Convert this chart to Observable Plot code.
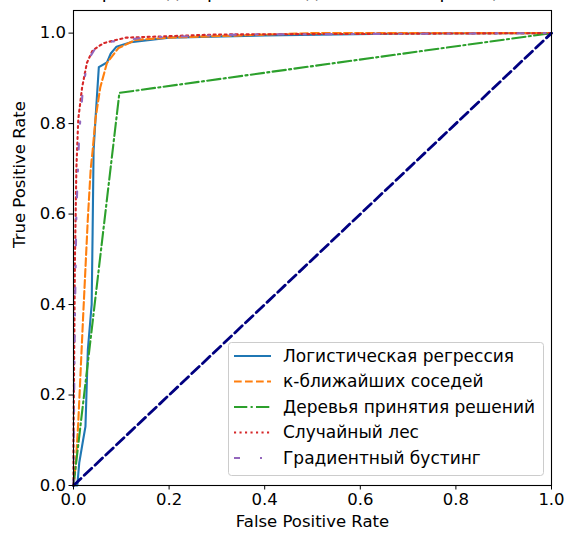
<!DOCTYPE html>
<html>
<head>
<meta charset="utf-8">
<script src="https://cdn.jsdelivr.net/npm/d3@7"></script>
<script src="https://cdn.jsdelivr.net/npm/@observablehq/plot@0.6"></script>
<style>
  html, body { margin: 0; padding: 0; background: #fff; }
  #chart svg { display: block; }
</style>
</head>
<body>
<div id="chart"></div>
<script>
// ---- Data ----
const titleText = "ROC-кривые для разных моделей классификации";
const xLabel = "False Positive Rate";
const yLabel = "True Positive Rate";
const tickValues = [0, 0.2, 0.4, 0.6, 0.8, 1.0];

const seriesNames = [
  "Логистическая регрессия",
  "к-ближайших соседей",
  "Деревья принятия решений",
  "Случайный лес",
  "Градиентный бустинг"
];

const fprLR = [0, 0.008, 0.012, 0.02, 0.025, 0.03, 0.038, 0.040, 0.042, 0.046, 0.053, 0.070, 0.078, 0.090, 0.120, 0.200, 0.400, 0.700, 1.0];
const tprLR = [0, 0.000, 0.050, 0.10, 0.130, 0.30, 0.400, 0.560, 0.740, 0.810, 0.925, 0.935, 0.955, 0.970, 0.980, 0.990, 0.995, 0.999, 1.0];

const fprKNN = [0, 0.005, 0.010, 0.020, 0.030, 0.036, 0.040, 0.046, 0.056, 0.070, 0.094, 0.130, 0.200, 0.500, 1.0];
const tprKNN = [0, 0.050, 0.140, 0.370, 0.590, 0.700, 0.740, 0.810, 0.880, 0.934, 0.967, 0.985, 0.990, 1.000, 1.0];

const fprDT = [0, 0.096, 1.0];
const tprDT = [0, 0.868, 1.0];

const fprRF = [0, 0.000, 0.003, 0.006, 0.010, 0.018, 0.028, 0.040, 0.063, 0.110, 0.300, 1.0];
const tprRF = [0, 0.100, 0.500, 0.700, 0.810, 0.880, 0.934, 0.962, 0.978, 0.990, 0.997, 1.0];

const fprGB = [0, 0.002, 0.006, 0.012, 0.020, 0.030, 0.045, 0.070, 0.150, 0.350, 1.0];
const tprGB = [0, 0.300, 0.600, 0.780, 0.880, 0.940, 0.965, 0.980, 0.990, 0.997, 1.0];

const fprDiag = [0, 1];
const tprDiag = [0, 1];

// ---- Styles ----
const colors = ["#1f77b4", "#ff7f0e", "#2ca02c", "#d62728", "#9467bd"];
const dashes = ["none", "7.7,3.3", "13.3,3.3,2.1,3.3", "2.1,3.4", "6,20,2,20"];
const font = "DejaVu Sans, sans-serif";
const fs = 16.5;
const lfs = 17;

const toRows = (xs, ys) => xs.map((x, i) => ({x, y: ys[i]}));
const series = [
  toRows(fprLR, tprLR),
  toRows(fprKNN, tprKNN),
  toRows(fprDT, tprDT),
  toRows(fprRF, tprRF),
  toRows(fprGB, tprGB)
];

const lineMarks = series.map((rows, i) =>
  Plot.line(rows, {x: "x", y: "y", stroke: colors[i], strokeWidth: 2.1,
    strokeDasharray: dashes[i], strokeLinejoin: "round", curve: "linear"})
);

const chart = Plot.plot({
  width: 565,
  height: 535,
  marginLeft: 73,
  marginRight: 14,
  marginTop: 10,
  marginBottom: 50,
  style: {fontFamily: font, fontSize: fs + "px", color: "black", background: "white", overflow: "hidden"},
  x: {domain: [0, 1]},
  y: {domain: [0, 1.05]},
  marks: [
    ...lineMarks,
    Plot.line(toRows(fprDiag, tprDiag), {x: "x", y: "y", stroke: "navy", strokeWidth: 2.8, strokeDasharray: "10.3,4.5"}),
    Plot.frame({stroke: "black", strokeWidth: 1.1}),
    Plot.axisX({ticks: tickValues, tickFormat: d3.format(".1f"), tickSize: 4.5, tickPadding: 3, label: null, fontSize: fs}),
    Plot.axisY({ticks: tickValues, tickFormat: d3.format(".1f"), tickSize: 4.5, tickPadding: 3, label: null, fontSize: fs}),
    Plot.text([xLabel], {frameAnchor: "bottom", dy: 41, fontSize: fs, fill: "black"}),
    Plot.text([yLabel], {frameAnchor: "left", dx: -54, rotate: -90, fontSize: fs, fill: "black"})
  ]
});

document.getElementById("chart").appendChild(chart);

// ---- Title (clipped at the top as in the reference) and legend ----
const svg = d3.select(chart);
svg.append("text")
  .attr("x", 282).attr("y", -2)
  .attr("text-anchor", "middle")
  .attr("font-family", font).attr("font-size", 18)
  .attr("fill", "black")
  .text(titleText);

const lg = svg.append("g").attr("text-anchor", "start");
lg.append("rect")
  .attr("x", 228.5).attr("y", 342.5).attr("width", 315).attr("height", 133)
  .attr("rx", 3).attr("fill", "white").attr("fill-opacity", 0.8)
  .attr("stroke", "#cccccc").attr("stroke-width", 1);
seriesNames.forEach((name, i) => {
  const cy = 356 + i * 25.5;
  lg.append("line")
    .attr("x1", 234).attr("x2", 271).attr("y1", cy).attr("y2", cy)
    .attr("stroke", colors[i]).attr("stroke-width", 2.1)
    .attr("stroke-dasharray", dashes[i] === "none" ? null : dashes[i]);
  lg.append("text")
    .attr("x", 283).attr("y", cy).attr("dy", "0.35em")
    .attr("text-anchor", "start")
    .attr("font-family", font).attr("font-size", lfs).attr("fill", "black")
    .text(name);
});
</script>
</body>
</html>
